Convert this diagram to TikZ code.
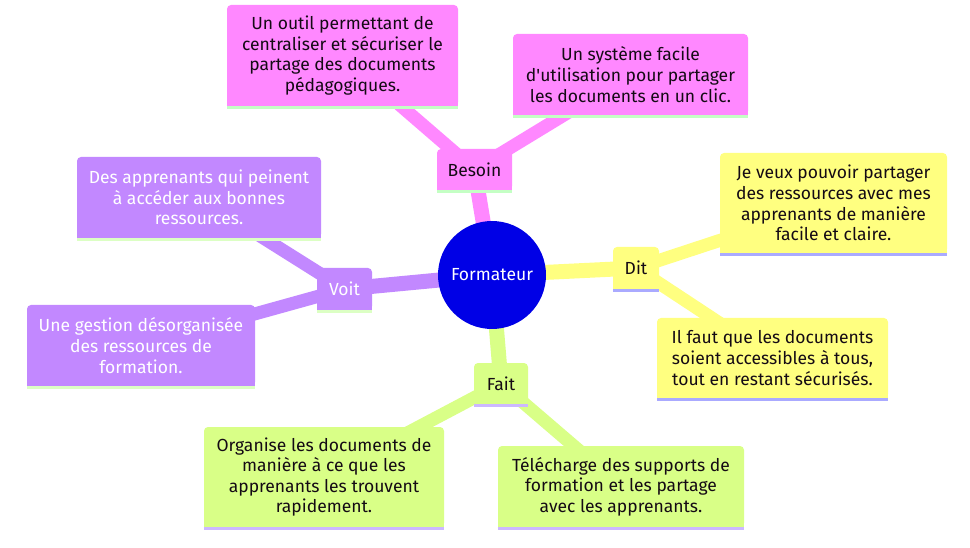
\documentclass[tikz,border=0pt]{standalone}
\usepackage{fontspec}
\setmainfont{Fira Sans}[Ligatures=TeXOff]
\usetikzlibrary{backgrounds}
\definecolor{pinkc}{RGB}{255,136,255}
\definecolor{pinkul}{RGB}{196,255,196}
\definecolor{purplec}{RGB}{194,136,255}
\definecolor{purpleul}{RGB}{220,255,196}
\definecolor{yellowc}{RGB}{255,255,128}
\definecolor{yellowul}{RGB}{170,170,255}
\definecolor{greenc}{RGB}{217,255,135}
\definecolor{greenul}{RGB}{204,184,255}
\definecolor{rootc}{RGB}{0,0,230}
\definecolor{darktext}{RGB}{20,10,20}
\tikzset{
  mmbox/.style={rectangle, rounded corners=4pt, inner sep=0pt, align=center,
    font=\fontsize{17.5}{20.6}\selectfont, text=darktext},
  pinkbox/.style={mmbox, fill=pinkc},
  purplebox/.style={mmbox, fill=purplec, text=white},
  yellowbox/.style={mmbox, fill=yellowc},
  greenbox/.style={mmbox, fill=greenc},
  rootnode/.style={circle, fill=rootc, text=white, minimum size=108pt, inner sep=0pt,
    font=\fontsize{17.5}{20}\selectfont},
  rootlink/.style={line width=15pt},
  leaflink/.style={line width=13pt},
}
\begin{document}
\begin{tikzpicture}[x=1pt,y=-1pt]
\useasboundingbox (0,0) rectangle (970,548);

\node[rootnode] (root) at (492,275) {Formateur};

\node[pinkbox, minimum width=75pt, minimum height=41pt] (besoin) at (474.5,169.5) {Besoin};
\node[pinkbox, minimum width=231pt, minimum height=101pt] (ptl) at (342.5,55.5)
  {Un outil permettant de\\centraliser et sécuriser le\\partage des documents\\pédagogiques.};
\node[pinkbox, minimum width=235pt, minimum height=81pt] (ptr) at (630.5,74.5)
  {Un système facile\\d'utilisation pour partager\\les documents en un clic.};

\node[yellowbox, minimum width=46pt, minimum height=42pt] (dit) at (636,268) {Dit};
\node[yellowbox, minimum width=227pt, minimum height=100pt] (ytr) at (833.5,203)
  {Je veux pouvoir partager\\des ressources avec mes\\apprenants de manière\\facile et claire.};
\node[yellowbox, minimum width=231pt, minimum height=80pt] (ybr) at (772.5,358)
  {Il faut que les documents\\soient accessibles à tous,\\tout en restant sécurisés.};

\node[purplebox, minimum width=55pt, minimum height=42pt] (voit) at (344.5,289) {Voit};
\node[purplebox, minimum width=244pt, minimum height=81pt] (vtl) at (199,197.5)
  {Des apprenants qui peinent\\à accéder aux bonnes\\ressources.};
\node[purplebox, minimum width=228pt, minimum height=81pt] (vbl) at (141,345.5)
  {Une gestion désorganisée\\des ressources de\\formation.};

\node[greenbox, minimum width=54pt, minimum height=41pt] (fait) at (501,383.5) {Fait};
\node[greenbox, minimum width=240pt, minimum height=100pt] (gbl) at (324,477)
  {Organise les documents de\\manière à ce que les\\apprenants les trouvent\\rapidement.};
\node[greenbox, minimum width=246pt, minimum height=81pt] (gbr) at (621,486.5)
  {Télécharge des supports de\\formation et les partage\\avec les apprenants.};

\foreach \n/\f/\u in {besoin/pinkc/pinkul, ptl/pinkc/pinkul, ptr/pinkc/pinkul,
    dit/yellowc/yellowul, ytr/yellowc/yellowul, ybr/yellowc/yellowul,
    voit/purplec/purpleul, vtl/purplec/purpleul, vbl/purplec/purpleul,
    fait/greenc/greenul, gbl/greenc/greenul, gbr/greenc/greenul}{
  \fill[\f] ([yshift=5pt]\n.south west) rectangle (\n.south east);
  \fill[\u] (\n.south west) rectangle ([yshift=-3pt]\n.south east);
}

\begin{scope}[on background layer]
  \fill[white] (0,0) rectangle (970,548);
  \draw[rootlink, pinkc] (root.center) -- (besoin.center);
  \draw[leaflink, pinkc] (besoin.center) -- (ptl.center);
  \draw[leaflink, pinkc] (besoin.center) -- (ptr.center);
  \draw[rootlink, yellowc] (root.center) -- (dit.center);
  \draw[leaflink, yellowc] (dit.center) -- (ytr.center);
  \draw[leaflink, yellowc] (dit.center) -- (ybr.center);
  \draw[rootlink, purplec] (root.center) -- (voit.center);
  \draw[leaflink, purplec] (voit.center) -- (vtl.center);
  \draw[leaflink, purplec] (voit.center) -- (vbl.center);
  \draw[rootlink, greenc] (root.center) -- (fait.center);
  \draw[leaflink, greenc] (fait.center) -- (gbl.center);
  \draw[leaflink, greenc] (fait.center) -- (gbr.center);
\end{scope}
\end{tikzpicture}
\end{document}
